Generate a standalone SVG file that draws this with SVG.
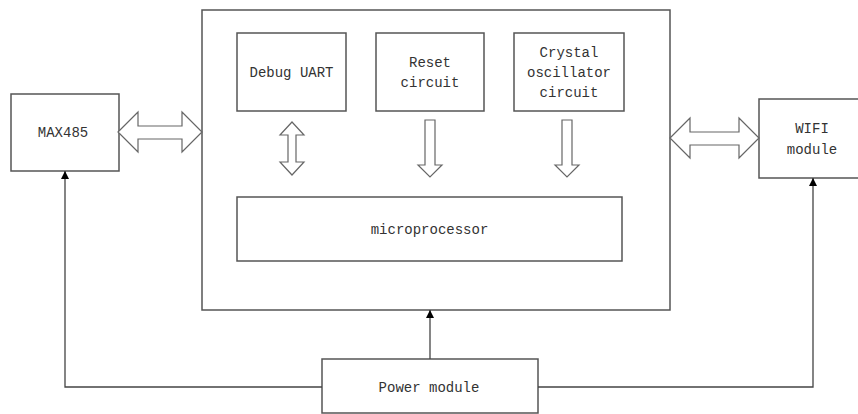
<svg xmlns="http://www.w3.org/2000/svg" width="858" height="414" viewBox="0 0 858 414">
<defs>
<style>
.box{fill:#fff;stroke:#555;stroke-width:1.5}
.t{font-family:"Liberation Mono","DejaVu Sans Mono",monospace;font-size:14px;fill:#333;text-anchor:middle}
.big{fill:#fff;stroke:#666;stroke-width:1.2;stroke-linejoin:miter}
.ln{fill:none;stroke:#444;stroke-width:1.3}
</style>
<marker id="ah" viewBox="0 0 10 10" refX="10" refY="5" markerWidth="8" markerHeight="8" markerUnits="userSpaceOnUse" orient="auto">
<path d="M0,0 L10,5 L0,10 Z" fill="#000"/>
</marker>
</defs>
<rect width="858" height="414" fill="#fff"/>
<g id="main"><rect class="box" x="202" y="10" width="468" height="300"/></g>
<g id="debug"><rect class="box" x="237" y="33" width="109" height="78"/><text class="t" x="291.5" y="77">Debug UART</text></g>
<g id="reset"><rect class="box" x="376" y="33" width="108" height="78"/><text class="t" x="430" y="67">Reset</text><text class="t" x="430" y="87">circuit</text></g>
<g id="crystal"><rect class="box" x="514" y="33" width="110" height="78"/><text class="t" x="569" y="57">Crystal</text><text class="t" x="569" y="77">oscillator</text><text class="t" x="569" y="97">circuit</text></g>
<g id="micro"><rect class="box" x="237" y="197" width="385" height="64"/><text class="t" x="429.5" y="234">microprocessor</text></g>
<g id="max485"><rect class="box" x="11" y="94" width="108" height="77"/><text class="t" x="63" y="137">MAX485</text></g>
<g id="wifi"><rect class="box" x="759" y="99" width="104" height="79"/><text class="t" x="812" y="133">WIFI</text><text class="t" x="812" y="154">module</text></g>
<g id="power"><rect class="box" x="322" y="359" width="216" height="54"/><text class="t" x="429" y="392">Power module</text></g>
<g id="connectors">
<path class="big" d="M118,132 L138,112 L138,126 L182,126 L182,112 L202,132 L182,152 L182,139 L138,139 L138,152 Z"/>
<path class="big" d="M670,138 L690,118 L690,132 L739,132 L739,118 L759,138 L739,158 L739,145 L690,145 L690,158 Z"/>
<path class="big" d="M292,122 L304,135 L296,135 L296,162 L304,162 L292,175 L280,162 L288,162 L288,135 L280,135 Z"/>
<path class="big" d="M425,120 L435,120 L435,165 L442,165 L430,177 L418,165 L425,165 Z"/>
<path class="big" d="M562,120 L572,120 L572,165 L579,165 L567,177 L555,165 L562,165 Z"/>
<path class="ln" d="M322,387 H65 V171" marker-end="url(#ah)"/>
<path class="ln" d="M538,387 H813 V178" marker-end="url(#ah)"/>
<path class="ln" d="M430,359 V310" marker-end="url(#ah)"/>
</g>
</svg>
